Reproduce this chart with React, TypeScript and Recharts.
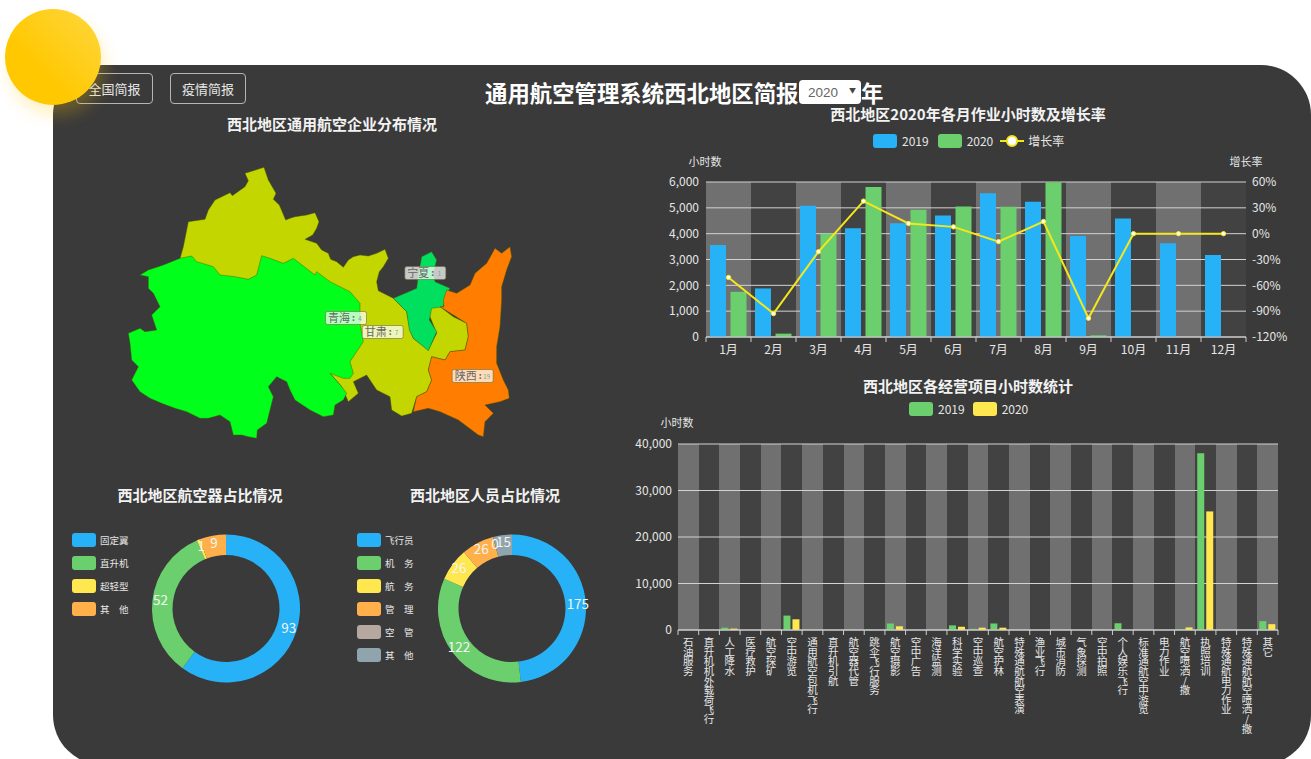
import React from 'react';
import { BarChart, Bar, ComposedChart, Line, XAxis, YAxis, CartesianGrid, Legend, PieChart, Pie, ScatterChart, Scatter } from 'recharts';

const FONT = '"Noto Sans CJK SC", "Noto Sans", sans-serif';
const BLUE = '#27b2f8';
const GREEN = '#6ccf6e';
const YELLOW = '#ffe84f';
const ORANGE = '#ffb04a';
const TAUPE = '#b6a8a0';
const SLATE = '#90a4ae';
const TEXT = '#e6e6e6';

// monthly chart
const months = ['1月','2月','3月','4月','5月','6月','7月','8月','9月','10月','11月','12月'];
const hours2019 = [3560,1880,5080,4210,4400,4700,5560,5235,3910,4590,3630,3175];
const hours2020 = [1750,130,4000,5805,4925,5055,5040,5990,65,0,0,0];
const growthRate = [-50.8,-92.8,-20.9,37.8,11.8,7.9,-9.2,14.1,-98.2,0,0,0];
const monthTable = months.map((m,i)=>({name:m,y2019:hours2019[i],y2020:hours2020[i],rate:growthRate[i]}));

// business item chart
const projects = ['石油服务','直升机机外载荷飞行','人工降水','医疗救护','航空探矿','空中游览','通用航空包机飞行','直升机引航','航空器代管','跳伞飞行服务','航空摄影','空中广告','海洋监测','科学实验','空中巡查','航空护林','特殊通航航空表演','渔业飞行','城市消防','气象探测','空中拍照','个人娱乐飞行','标准通航空中游览','电力作业','航空喷洒/撒','执照培训','特殊通航电力作业','特殊通航航空喷洒/撒','其它'];
const projects2019 = [0,0,500,0,0,3100,30,0,50,100,1400,0,0,1000,250,1400,0,0,0,0,0,1450,0,0,200,38000,0,0,1900];
const projects2020 = [0,0,300,0,0,2300,0,0,0,0,800,0,0,700,500,500,0,0,0,0,0,0,0,0,550,25500,0,0,1250];
const projectTable = projects.map((p,i)=>({name:p,y2019:projects2019[i],y2020:projects2020[i]}));

// pies
const aircraftNames = ['固定翼','直升机','超轻型','其　他'];
const aircraftValues = [93,52,1,9];
const aircraftColors = [BLUE,GREEN,YELLOW,ORANGE];
const aircraftTable = aircraftNames.map((n,i)=>({name:n,value:aircraftValues[i],fill:aircraftColors[i]}));
const staffNames = ['飞行员','机　务','航　务','管　理','空　管','其　他'];
const staffValues = [175,122,26,26,0,15];
const staffColors = [BLUE,GREEN,YELLOW,ORANGE,TAUPE,SLATE];
const staffTable = staffNames.map((n,i)=>({name:n,value:staffValues[i],fill:staffColors[i]}));

// map outlines, in map units
const toPts = (a:number[][]) => a.map(([x,y])=>({x,y}));
const gansuOutline = [[375,40],[400,32],[432,22],[445,60],[468,100],[460,118],[478,135],[497,180],[510,175],[525,170],[560,165],[585,158],[597,185],[590,205],[578,225],[555,238],[590,250],[605,270],[625,280],[632,298],[650,305],[670,322],[685,300],[700,290],[720,285],[745,288],[770,280],[795,268],[805,295],[790,320],[778,335],[770,365],[775,392],[820,415],[860,455],[870,510],[880,535],[925,570],[950,520],[930,470],[930,440],[960,440],[1000,470],[1040,490],[1045,530],[1035,570],[990,575],[975,600],[935,590],[925,630],[935,660],[920,695],[890,710],[875,760],[845,768],[815,750],[810,710],[770,690],[740,645],[700,665],[715,700],[685,725],[665,680],[630,640],[600,500],[400,420],[230,360],[180,296],[190,260],[205,185],[255,178],[265,150],[285,120],[330,98],[337,107],[375,80],[385,62]];
const qinghaiOutline = [[60,345],[85,330],[130,315],[180,295],[215,288],[230,305],[280,320],[300,345],[345,350],[385,358],[410,345],[425,287],[450,295],[490,310],[520,295],[585,345],[590,335],[630,365],[690,395],[720,430],[720,490],[730,545],[710,575],[690,605],[700,640],[690,655],[670,655],[630,640],[665,680],[680,700],[670,720],[645,735],[640,765],[610,770],[570,750],[525,720],[510,690],[500,665],[470,650],[445,680],[460,710],[445,770],[440,790],[412,810],[410,835],[385,830],[365,825],[340,825],[330,785],[300,765],[265,775],[240,775],[200,755],[165,745],[125,730],[90,715],[60,695],[35,660],[55,620],[35,600],[30,550],[25,520],[60,505],[75,515],[110,510],[95,465],[120,440],[100,400],[85,385],[85,350]];
const ningxiaOutline = [[820,415],[890,385],[895,345],[905,290],[935,275],[950,300],[940,340],[945,365],[990,385],[975,410],[970,440],[935,445],[928,480],[950,515],[925,572],[880,535],[868,510],[860,455]];
const shaanxiOutline = [[970,420],[980,390],[1010,400],[1050,375],[1065,340],[1100,310],[1125,265],[1145,280],[1170,260],[1175,290],[1160,330],[1145,380],[1145,420],[1140,500],[1130,560],[1130,610],[1150,660],[1165,690],[1168,715],[1140,725],[1095,735],[1120,760],[1095,785],[1090,830],[1075,825],[1015,780],[960,755],[925,745],[880,755],[890,710],[920,695],[935,660],[925,630],[935,590],[975,600],[990,575],[1035,570],[1045,530],[1040,490],[1000,465],[960,440],[972,440]];
const mapLabels = [
  {x:916,y:339,name:'宁夏',value:1},
  {x:678,y:474,name:'青海',value:4},
  {x:788,y:516,name:'甘肃',value:7},
  {x:1058,y:648,name:'陕西',value:19},
];

const SwatchLegend = ({payload, gap=8, vertical=false}:any) => (
  <div style={{display:'flex',flexDirection:vertical?'column':'row',gap: vertical?9:gap,fontFamily:FONT}}>
    {(payload||[]).map((e:any)=>(
      <div key={e.value} style={{display:'flex',alignItems:'center',color:TEXT,fontSize:vertical?9.5:12,height:14,whiteSpace:'pre',lineHeight:'14px'}}>
        {e.type==='line' ? (
          <svg width={24} height={14} style={{marginRight:4,marginLeft:-2}}>
            <line x1={0} x2={24} y1={7} y2={7} stroke={e.color} strokeWidth={2}/>
            <circle cx={12} cy={7} r={5} fill="#fff" stroke={e.color} strokeWidth={2}/>
          </svg>
        ) : (
          <div style={{width:24,height:14,background:e.color,borderRadius:3,marginRight:vertical?4:5}}/>
        )}
        {e.value}
      </div>
    ))}
  </div>
);

const BandTick = ({x,y,payload,width,visibleTicksCount,index}:any) => {
  const band = width/visibleTicksCount;
  return (
    <g>
      <line x1={x-band/2} x2={x-band/2} y1={y-8} y2={y-3} stroke="#ccc"/>
      {index===visibleTicksCount-1 && <line x1={x+band/2} x2={x+band/2} y1={y-8} y2={y-3} stroke="#ccc"/>}
      <text x={x} y={y+9} textAnchor="middle" fill={TEXT} fontSize={12} fontFamily={FONT}>{payload.value}</text>
    </g>
  );
};

const VerticalTick = ({x,y,payload,width,visibleTicksCount,index}:any) => {
  const band = width/visibleTicksCount;
  return (
    <g>
      <line x1={x-band/2} x2={x-band/2} y1={y-8} y2={y-3} stroke="#ccc"/>
      {index===visibleTicksCount-1 && <line x1={x+band/2} x2={x+band/2} y1={y-8} y2={y-3} stroke="#ccc"/>}
      <text x={x} y={y-1} fill={TEXT} fontSize={10.5} letterSpacing={-0.9} fontFamily={FONT} style={{writingMode:'vertical-rl',textOrientation:'upright'}} dominantBaseline="central">{payload.value}</text>
    </g>
  );
};

const bandStripes = ({offset}:any, n:number) => Array.from({length:n},(_,i)=>offset.left+i*offset.width/n);

const RingLabel = ({cx,cy,midAngle,outerRadius,value}:any) => {
  const r = outerRadius-8;
  const a = midAngle*Math.PI/180;
  return <text x={cx+r*Math.cos(a)} y={cy-r*Math.sin(a)-2} textAnchor="middle" dominantBaseline="central" fill="#f4f4f4" fontSize={13.5} fontFamily={FONT}>{value}</text>;
};

const MapLabel = ({cx,cy,payload}:any) => (
  <g>
    <rect x={cx-20.5} y={cy-6.5} width={41} height={13} rx={2} fill="#fff" fillOpacity={0.72} stroke="#6b6b3a" strokeOpacity={0.6}/>
    <text x={cx-18} y={cy+4} fill="#666" fontSize={11} fontFamily={FONT}>{payload.name}</text>
    <text x={cx+6} y={cy+3} fill="#666" fontSize={9} fontWeight={700} fontFamily={FONT}>:</text>
    <text x={cx+14} y={cy+2.5} textAnchor="middle" fill="#6a9" fontSize={6} fontFamily={FONT}>{payload.value}</text>
  </g>
);

const region = (fill:string) => (p:any) => (
  <polygon points={p.points.map((q:any)=>`${q.x},${q.y}`).join(' ')} fill={fill} stroke="rgba(70,90,0,0.55)" strokeWidth={0.8} strokeLinejoin="round"/>
);
const noSymbol = () => null;

const Txt = ({cx,cy,size=15,bold=true,color='#f2f2f2',children}:any) => (
  <div style={{position:'absolute',left:cx-200,width:400,top:cy-15,height:30,lineHeight:'30px',textAlign:'center',fontSize:size,fontWeight:bold?700:400,color,fontFamily:FONT,whiteSpace:'nowrap'}}>{children}</div>
);
const Btn = ({x,w,children}:any) => (
  <div style={{position:'absolute',left:x,top:73,width:w-2,height:29,lineHeight:'29px',textAlign:'center',border:'1px solid #b5b5b5',borderRadius:4,color:'#e6e6e6',fontSize:13,fontFamily:FONT,boxSizing:'content-box'}}>{children}</div>
);
const abs = (left:number,top:number):React.CSSProperties => ({position:'absolute',left,top});
const axisTick = {fill:TEXT,fontSize:12,fontFamily:FONT};

export default function App(){
  return (
    <div style={{position:'absolute',left:0,top:0,width:1311,height:759,overflow:'hidden',background:'#fff'}}>
      <div style={{position:'absolute',left:53,top:65,width:1258,height:700,background:'#3a3a3a',borderRadius:50}}/>

      <Btn x={76} w={77}>全国简报</Btn>
      <Btn x={170} w={76}>疫情简报</Btn>
      <div style={{position:'absolute',left:5,top:9,width:96,height:96,borderRadius:'50%',background:'linear-gradient(45deg,#ffc800 35%,#ffd740 100%)',boxShadow:'4px 10px 16px rgba(255,200,0,0.25)'}}/>

      <div style={{position:'absolute',left:485,top:76,height:32,lineHeight:'32px',fontSize:22.4,fontWeight:700,color:'#fff',fontFamily:FONT,whiteSpace:'nowrap'}}>通用航空管理系统西北地区简报</div>
      <select defaultValue="2020" style={{position:'absolute',left:799,top:80,width:62,height:24,border:'none',borderRadius:4,background:'#fff',color:'#666',fontSize:13.5,fontFamily:'"Liberation Sans", sans-serif',paddingLeft:9,appearance:'none',WebkitAppearance:'none'}}>
        <option value="2020">2020</option>
        <option value="2019">2019</option>
      </select>
      <div style={{position:'absolute',left:849,top:85,fontSize:7,lineHeight:'10px',color:'#444',fontFamily:FONT}}>▼</div>
      <div style={{position:'absolute',left:861,top:76,height:32,lineHeight:'32px',fontSize:22.4,fontWeight:700,color:'#fff',fontFamily:FONT}}>年</div>

      <Txt cx={332} cy={124}>西北地区通用航空企业分布情况</Txt>
      <Txt cx={968} cy={114}>西北地区2020年各月作业小时数及增长率</Txt>
      <Txt cx={968} cy={386}>西北地区各经营项目小时数统计</Txt>
      <Txt cx={200} cy={495}>西北地区航空器占比情况</Txt>
      <Txt cx={485} cy={495}>西北地区人员占比情况</Txt>
      <Txt cx={705} cy={161} size={11} bold={false} color={TEXT}>小时数</Txt>
      <Txt cx={1246} cy={161} size={11} bold={false} color={TEXT}>增长率</Txt>
      <Txt cx={677} cy={422} size={11} bold={false} color={TEXT}>小时数</Txt>

      {/* map */}
      <div style={abs(120,160)}>
        <ScatterChart width={400} height={285} margin={{top:0,right:0,bottom:0,left:0}}>
          <XAxis type="number" dataKey="x" domain={[0,1200]} hide/>
          <YAxis type="number" dataKey="y" domain={[0,855]} reversed hide/>
          <Scatter data={toPts(gansuOutline)} isAnimationActive={false} shape={noSymbol} line={region('#c4d600')} name="甘肃"/>
          <Scatter data={toPts(qinghaiOutline)} isAnimationActive={false} shape={noSymbol} line={region('#00ff1a')} name="青海"/>
          <Scatter data={toPts(ningxiaOutline)} isAnimationActive={false} shape={noSymbol} line={region('#00e05e')} name="宁夏"/>
          <Scatter data={toPts(shaanxiOutline)} isAnimationActive={false} shape={noSymbol} line={region('#ff7d00')} name="陕西"/>
          <Scatter data={mapLabels} isAnimationActive={false} shape={MapLabel}/>
        </ScatterChart>
      </div>

      {/* monthly */}
      <div style={abs(640,125)}>
        <ComposedChart width={671} height={240} data={monthTable} margin={{top:57,right:0,bottom:0,left:0}} barSize={16} barGap={4.5}>
          <CartesianGrid horizontal={false} stroke="none" verticalFill={['#707070','#424242']} verticalCoordinatesGenerator={(a:any)=>bandStripes(a,months.length)} yAxisId="hours"/>
          <CartesianGrid vertical={false} stroke="#d2d2d2" yAxisId="hours"/>
          <XAxis dataKey="name" interval={0} height={28} tickLine={false} axisLine={{stroke:'#ccc'}} tick={BandTick}/>
          <YAxis yAxisId="hours" width={66} domain={[0,6000]} ticks={[0,1000,2000,3000,4000,5000,6000]} tickFormatter={(v:number)=>v.toLocaleString('en-US')} axisLine={false} tickLine={false} tick={axisTick} tickMargin={1}/>
          <YAxis yAxisId="rate" orientation="right" width={65} domain={[-120,60]} ticks={[-120,-90,-60,-30,0,30,60]} tickFormatter={(v:number)=>`${v}%`} axisLine={false} tickLine={false} tick={axisTick} tickMargin={0}/>
          <Legend layout="horizontal" align="center" verticalAlign="middle" itemSorter={null} wrapperStyle={{left:233,top:9,width:200}} content={<SwatchLegend gap={9}/>}/>
          <Bar yAxisId="hours" dataKey="y2019" name="2019" fill={BLUE} isAnimationActive={false}/>
          <Bar yAxisId="hours" dataKey="y2020" name="2020" fill={GREEN} isAnimationActive={false}/>
          <Line yAxisId="rate" dataKey="rate" name="增长率" stroke="#f5e71c" strokeWidth={2} dot={{r:2.2,fill:'#fff',stroke:'#f5e71c',strokeWidth:1}} isAnimationActive={false}/>
        </ComposedChart>
      </div>

      {/* projects */}
      <div style={abs(612,396)}>
        <BarChart width={699} height={363} data={projectTable} margin={{top:48,right:33,bottom:0,left:0}} barSize={7} barGap={2}>
          <CartesianGrid horizontal={false} stroke="none" verticalFill={['#707070','#424242']} verticalCoordinatesGenerator={(a:any)=>bandStripes(a,projects.length)}/>
          <CartesianGrid vertical={false} stroke="#d2d2d2"/>
          <XAxis dataKey="name" interval={0} height={129} tickLine={false} axisLine={{stroke:'#ccc'}} tick={VerticalTick}/>
          <YAxis width={66} domain={[0,40000]} ticks={[0,10000,20000,30000,40000]} tickFormatter={(v:number)=>v.toLocaleString('en-US')} axisLine={false} tickLine={false} tick={axisTick} tickMargin={0}/>
          <Legend layout="horizontal" align="center" verticalAlign="middle" itemSorter={null} wrapperStyle={{left:297,top:6,width:160}} content={<SwatchLegend gap={8}/>}/>
          <Bar dataKey="y2019" name="2019" fill={GREEN} isAnimationActive={false}/>
          <Bar dataKey="y2020" name="2020" fill={YELLOW} isAnimationActive={false}/>
        </BarChart>
      </div>

      {/* pies */}
      <div style={abs(60,520)}>
        <PieChart width={260} height={175} margin={{top:0,right:0,bottom:0,left:0}}>
          <Pie data={aircraftTable} dataKey="value" nameKey="name" cx={166} cy={88.5} innerRadius={53.5} outerRadius={74} startAngle={90} endAngle={-270} stroke="none" label={RingLabel} labelLine={false} isAnimationActive={false}/>
          <Legend layout="horizontal" align="center" verticalAlign="middle" itemSorter={null} wrapperStyle={{left:12,top:13,width:70}} content={<SwatchLegend vertical/>}/>
        </PieChart>
      </div>
      <div style={abs(350,520)}>
        <PieChart width={250} height={175} margin={{top:0,right:0,bottom:0,left:0}}>
          <Pie data={staffTable} dataKey="value" nameKey="name" cx={162} cy={88.5} innerRadius={53.5} outerRadius={74} startAngle={90} endAngle={-270} stroke="none" label={RingLabel} labelLine={false} isAnimationActive={false}/>
          <Legend layout="horizontal" align="center" verticalAlign="middle" itemSorter={null} wrapperStyle={{left:7,top:13,width:70}} content={<SwatchLegend vertical/>}/>
        </PieChart>
      </div>
    </div>
  );
}
